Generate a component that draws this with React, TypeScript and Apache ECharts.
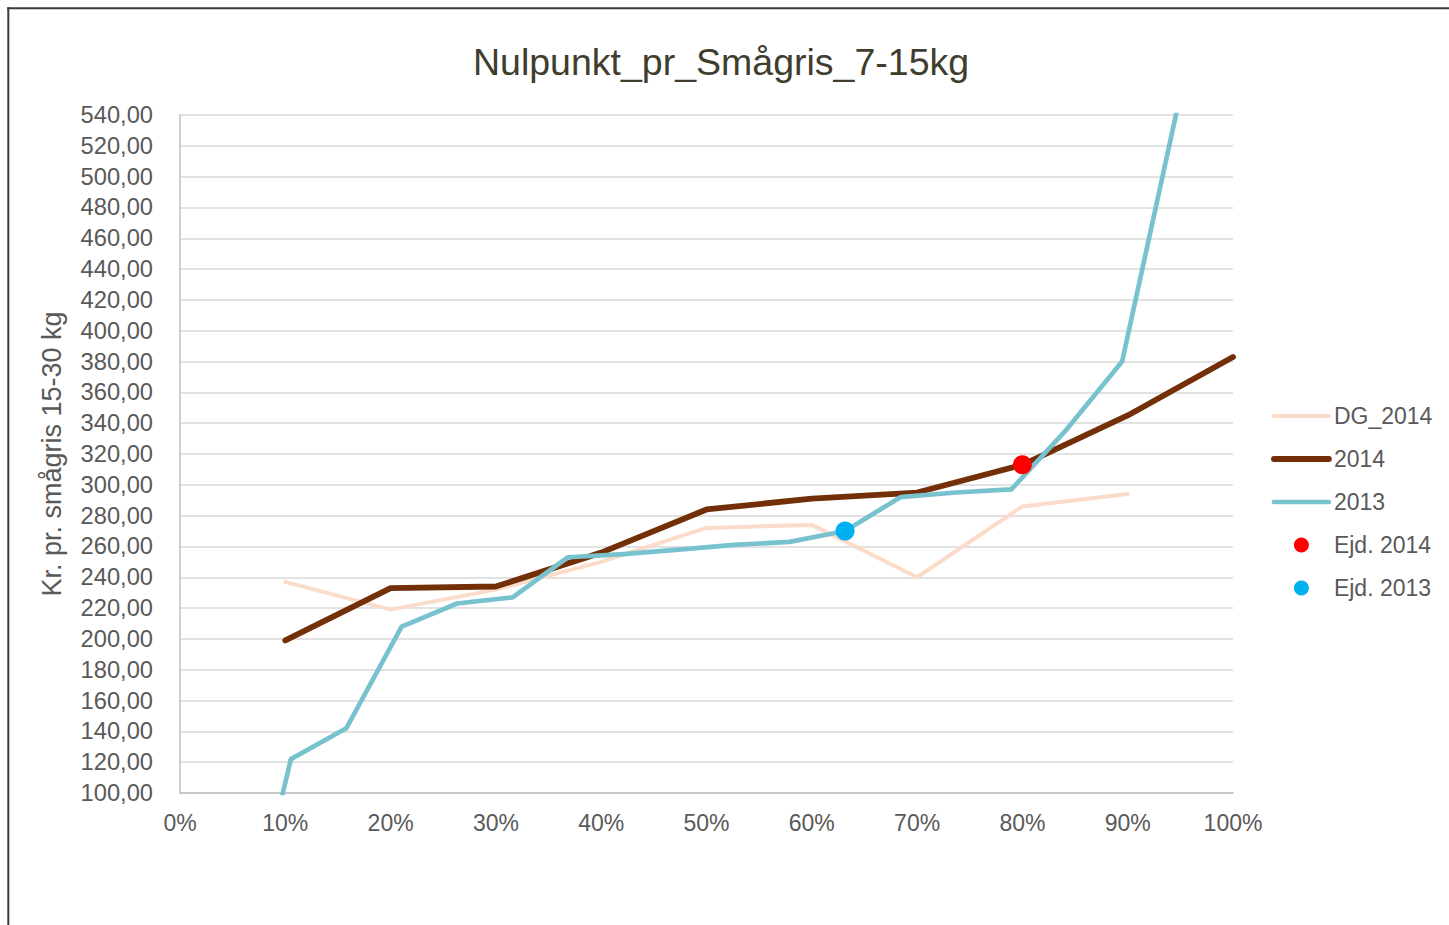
import { useEffect, useRef } from "react";
import * as echarts from "echarts";

const TITLE = "Nulpunkt_pr_Smågris_7-15kg";
const Y_NAME = "Kr. pr. smågris 15-30 kg";

const dgX = [10, 20, 30, 40, 50, 60, 70, 80, 90];
const dg2014 = [237, 219, 232, 250, 272, 274, 240, 286, 294];

const x2014 = [10, 20, 30, 40, 50, 60, 70, 80, 90, 100];
const v2014 = [199, 233, 234, 256, 284, 291, 295, 313, 345, 383];

const x2013 = [5.26, 10.53, 15.79, 21.05, 26.32, 31.58, 36.84, 42.11, 47.37, 52.63, 57.89, 63.16, 68.42, 73.68, 78.95, 84.21, 89.47, 94.74];
const v2013 = [-30, 122, 142, 208, 223, 227, 253, 255, 258, 261, 263, 270, 292, 295, 297, 336, 380, 545];

const ejd2014 = [[80, 313]];
const ejd2013 = [[63.16, 270]];

const FONT = "'Liberation Sans', Arial, Helvetica, sans-serif";
const GREY = "#595959";

const zip = (xs: number[], ys: number[]) => xs.map((x, i) => [x, ys[i]]);

export default function App() {
  const ref = useRef<HTMLDivElement>(null);
  useEffect(() => {
    if (!ref.current) return;
    const chart = echarts.init(ref.current, undefined, { renderer: "svg" });
    chart.setOption({
      animation: false,
      backgroundColor: "#ffffff",
      textStyle: { fontFamily: FONT },
      title: {
        text: TITLE,
        left: 473,
        top: 43,
        padding: 0,
        textStyle: { fontFamily: FONT, fontSize: 37.5, fontWeight: "normal", color: "#3F3D2E" },
      },
      graphic: [
        { type: "line", shape: { x1: 8.3, y1: 7.3, x2: 8.3, y2: 925 }, style: { stroke: "#3A3A3A", lineWidth: 2 } },
        { type: "line", shape: { x1: 7.3, y1: 8.3, x2: 1449, y2: 8.3 }, style: { stroke: "#3A3A3A", lineWidth: 2 } },
      ],
      legend: {
        orient: "vertical",
        left: 1271,
        top: 404,
        padding: 0,
        itemWidth: 55,
        itemHeight: 15,
        itemGap: 19,
        textStyle: { fontFamily: FONT, fontSize: 23, color: GREY, lineHeight: 24 },
        lineStyle: { width: "inherit", cap: "round" },
        data: [
          { name: "DG_2014", itemStyle: { opacity: 0 } },
          { name: "2014", itemStyle: { opacity: 0 } },
          { name: "2013", itemStyle: { opacity: 0 } },
          { name: "Ejd. 2014", itemStyle: { opacity: 1 } },
          { name: "Ejd. 2013", itemStyle: { opacity: 1 } },
        ],
      },
      grid: { left: 180, right: 216, top: 115, bottom: 132, containLabel: false },
      xAxis: {
        type: "value",
        min: 0,
        max: 100,
        interval: 10,
        axisLine: { show: true, lineStyle: { color: "#BFBFBF", width: 1.5 } },
        axisTick: { show: false },
        splitLine: { show: false },
        axisLabel: {
          margin: 18,
          fontFamily: FONT,
          fontSize: 23,
          color: GREY,
          formatter: (v: number) => `${v}%`,
        },
      },
      yAxis: {
        type: "value",
        min: 100,
        max: 540,
        interval: 20,
        name: Y_NAME,
        nameLocation: "middle",
        nameGap: 115,
        nameTextStyle: { fontFamily: FONT, fontSize: 27, color: GREY },
        axisLine: { show: true, lineStyle: { color: "#BFBFBF", width: 1.5 } },
        axisTick: { show: false },
        splitLine: { show: true, lineStyle: { color: "#D9D9D9", width: 1.5 } },
        axisLabel: {
          margin: 27,
          fontFamily: FONT,
          fontSize: 23.7,
          color: GREY,
          formatter: (v: number) => v.toFixed(2).replace(".", ","),
        },
      },
      series: [
        {
          name: "DG_2014",
          type: "line",
          data: zip(dgX, dg2014),
          symbol: "none",
          color: "#FBDCCB",
          lineStyle: { width: 4, color: "#FBDCCB", cap: "round", join: "round" },
        },
        {
          name: "2014",
          type: "line",
          data: zip(x2014, v2014),
          symbol: "none",
          color: "#722F08",
          lineStyle: { width: 5.8, color: "#722F08", cap: "round", join: "round" },
        },
        {
          name: "2013",
          type: "line",
          data: zip(x2013, v2013),
          symbol: "none",
          color: "#78C2CF",
          lineStyle: { width: 4.7, color: "#78C2CF", cap: "round", join: "round" },
        },
        {
          name: "Ejd. 2014",
          type: "scatter",
          data: ejd2014,
          symbol: "circle",
          symbolSize: 19,
          itemStyle: { color: "#FF0000", opacity: 1 },
          z: 5,
        },
        {
          name: "Ejd. 2013",
          type: "scatter",
          data: ejd2013,
          symbol: "circle",
          symbolSize: 19,
          itemStyle: { color: "#00B0F0", opacity: 1 },
          z: 5,
        },
      ],
    });
    return () => chart.dispose();
  }, []);
  return (
    <div
      ref={ref}
      style={{ position: "fixed", left: 0, top: 0, width: 1449, height: 925, background: "#fff" }}
    />
  );
}
